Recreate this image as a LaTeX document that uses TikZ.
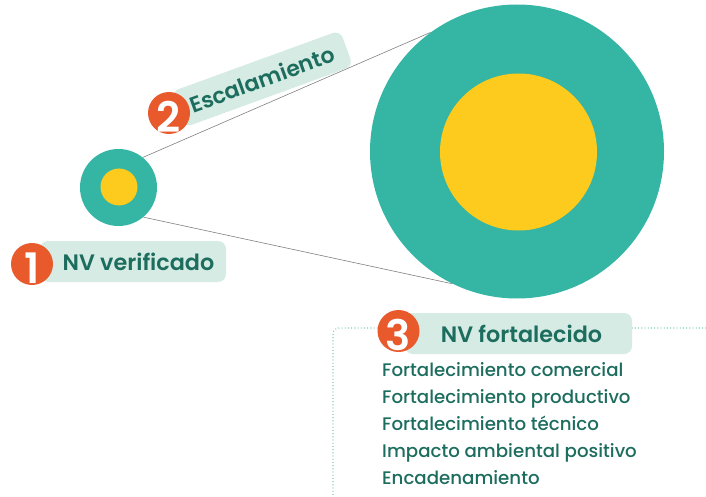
\documentclass[tikz,border=0pt]{standalone}
\usepackage{fontspec}
\setmainfont{Poppins}[UprightFont=* Medium,BoldFont=* SemiBold]
\usepackage{tikz}
\usetikzlibrary{positioning}

\definecolor{verde}{HTML}{35B5A4}
\definecolor{amarillo}{HTML}{FDCB1E}
\definecolor{naranja}{HTML}{E8592B}
\definecolor{menta}{HTML}{D5EBE4}
\definecolor{tinta}{HTML}{1D6D5F}
\definecolor{punteado}{HTML}{6CC4B6}

\begin{document}
\begin{tikzpicture}[x=1pt,y=-1pt,
  disc/.style={circle,inner sep=0pt,draw=none},
  tag/.style={fill=menta,rounded corners=8pt,minimum height=41pt,inner sep=0pt},
  tagtext/.style={text=tinta,font=\fontsize{22.3}{24}\selectfont\bfseries},
  num/.style={disc,fill=naranja,minimum size=42pt},
  digit/.style={inner sep=0pt,text=white,font=\fontsize{42}{42}\selectfont\bfseries},
  itemtext/.style={text=tinta,font=\fontsize{18.2}{20}\selectfont,inner sep=0pt,anchor=base west},
  dotline/.style={punteado,line width=1.4pt,line cap=round,dash pattern=on 0pt off 3.2pt}]
	\useasboundingbox (0,0) rectangle (706,497);
	% circulos
	\node[disc,minimum size=77pt] (small) at (118.5,187.5) {};
	\node[disc,minimum size=294pt] (big) at (517,151.5) {};
	\draw[gray,line width=0.6pt] (small.51) -- (big.126);
	\draw[gray,line width=0.6pt] (small.-50) -- (big.-116);
	\node[disc,fill=verde,minimum size=77pt] at (small) {};
	\node[disc,fill=amarillo,minimum size=37pt] (smallcore) at (119,187) {};
	\node[disc,fill=verde,minimum size=294pt] at (big) {};
	\node[disc,fill=amarillo,minimum size=157pt] (bigcore) at (518.5,152) {};
	% 1
	\node[tag,minimum width=186pt] (tag1) at (133,261.5) {};
	\node[tagtext] (tag1text) at ([xshift=5.5pt]tag1.center) {NV verificado};
	\node[num] (num1) at (32,264) {};
	\node[digit] (digit1) at ([yshift=-4pt]num1.center) {1};
	% 2
	\node[tag,minimum width=180pt,minimum height=38pt,rotate=20] (tag2) at (262,79)
		{\color{tinta}\fontsize{22}{24}\selectfont\bfseries Escalamiento};
	\node[num] (num2) at (169,113) {};
	\node[digit] (digit2) at ([yshift=-4pt]num2.center) {2};
	% 3
	\coordinate (frameTL) at (333,328);
	\coordinate (frameB) at (333,497);
	\coordinate (frameR) at (706,328);
	\node[tag,minimum width=227pt] (tag3) at (518.5,333.5) {};
	\draw[dotline,rounded corners=6pt] ([xshift=-2pt]tag3.west |- frameTL) -- (frameTL) -- (frameB);
	\draw[dotline] (tag3.east |- frameR) -- (frameR);
	\node[tagtext] (tag3text) at ([xshift=3pt]tag3.center) {NV fortalecido};
	\node[num] (num3) at (398.5,331) {};
	\node[digit] (digit3) at ([yshift=-4pt]num3.center) {3};
	\foreach \txt [count=\i] in {Fortalecimiento comercial,Fortalecimiento productivo,
		Fortalecimiento técnico,Impacto ambiental positivo,Encadenamiento}
		\node[itemtext] (item\i) at (382,{376+27.2*(\i-1)}) {\txt};
\end{tikzpicture}
\end{document}
